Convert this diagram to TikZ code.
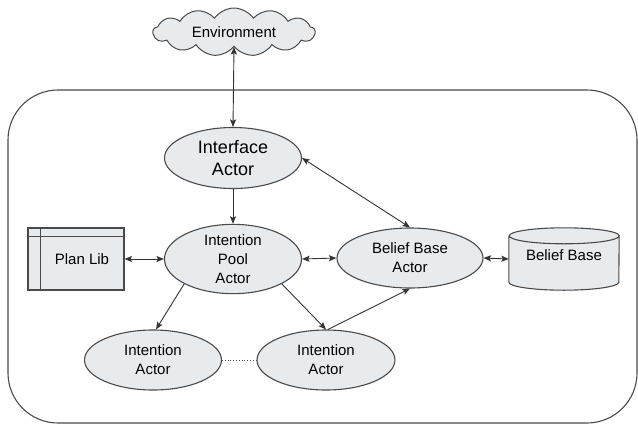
\documentclass[tikz,border=0pt]{standalone}
\usepackage{fontspec}
\setmainfont{Liberation Sans}
\usetikzlibrary{shapes.geometric,shapes.symbols,arrows.meta}
\definecolor{shapefill}{HTML}{E8EBEE}
\definecolor{edgeline}{HTML}{4A4A4A}
\definecolor{arrowline}{HTML}{333333}
\tikzset{
  actor/.style={ellipse, draw=edgeline, line width=1.1pt, fill=shapefill,
    minimum width=137pt, minimum height=60pt, inner sep=0pt, align=center,
    font=\fontsize{15}{19}\selectfont},
  conn/.style={draw=arrowline, line width=0.9pt},
  tip/.tip={Stealth[length=7.5pt,width=6pt,inset=1.5pt]},
  both/.style={conn, tip-tip},
  fwd/.style={conn, -tip},
}
\begin{document}
\begin{tikzpicture}[x=1pt,y=-1pt]
\useasboundingbox (0,0) rectangle (638,424);

% system boundary
\draw[edgeline, line width=1.1pt, rounded corners=50pt] (8,90) rectangle (637,423);

% environment cloud
\node (env) [cloud, cloud puffs=13, cloud puff arc=110, aspect=3.5, draw=edgeline,
  line width=1pt, fill=shapefill, minimum width=162pt, minimum height=48pt,
  inner sep=0pt, font=\fontsize{15}{17}\selectfont] at (234,32) {Environment};

% actors
\node (ia)  [actor, font=\fontsize{18}{22}\selectfont, minimum height=61pt] at (233,158) {Interface\\Actor};
\node (ipa) [actor, minimum height=58pt] at (233,259) {Intention\\Pool\\Actor};
\node (bba) [actor, minimum width=146pt] at (410,258) {Belief Base\\Actor};
\node (ia1) [actor] at (153,360) {Intention\\Actor};
\node (ia2) [actor, minimum width=138pt] at (326,360) {Intention\\Actor};

% plan library (table box)
\node (pl) [rectangle, draw=edgeline, line width=1.1pt, fill=shapefill,
  minimum width=96pt, minimum height=62pt, inner sep=0pt,
  font=\fontsize{15}{18}\selectfont] at (76,259) {\hspace{12pt}Plan Lib};
\draw[edgeline, line width=1.1pt] ([xshift=13pt]pl.north west) -- ([xshift=13pt]pl.south west);
\draw[edgeline, line width=1.1pt] ([yshift=-9pt]pl.north west) -- ([yshift=-9pt]pl.north east);

% belief base (cylinder)
\node (bb) [rectangle, minimum width=110pt, minimum height=62pt, inner sep=0pt,
  font=\fontsize{15}{18}\selectfont] at (564,259) {};
\fill[shapefill] ([yshift=-8pt]bb.north west) -- ([yshift=8pt]bb.south west)
  arc[start angle=180, end angle=360, x radius=55pt, y radius=8pt]
  -- ([yshift=-8pt]bb.north east)
  arc[start angle=0, end angle=360, x radius=55pt, y radius=8pt];
\draw[edgeline, line width=1.1pt] ([yshift=-8pt]bb.north west) -- ([yshift=8pt]bb.south west)
  arc[start angle=180, end angle=360, x radius=55pt, y radius=8pt]
  -- ([yshift=-8pt]bb.north east)
  arc[start angle=0, end angle=360, x radius=55pt, y radius=8pt];
\node [font=\fontsize{15}{18}\selectfont] at ([yshift=4pt]bb.center) {Belief Base};

% connectors
\draw[both] (env.south) -- (ia.north);
\draw[fwd]  (ia.south) -- (ipa.north);
\draw[both] (ia.east) -- (bba.north);
\draw[both] (pl.east) -- (ipa.west);
\draw[both] (ipa.east) -- (bba.west);
\draw[both] (bba.east) -- (bb.west);
\draw[fwd]  (ipa.south west) -- ([xshift=3pt]ia1.north);
\draw[fwd]  (ipa.south east) -- (ia2.north);
\draw[fwd]  ([xshift=2pt]ia2.north) -- (bba.south);
\draw[edgeline, line width=0.8pt, dotted] (ia1.east) -- (ia2.west);
\end{tikzpicture}
\end{document}
